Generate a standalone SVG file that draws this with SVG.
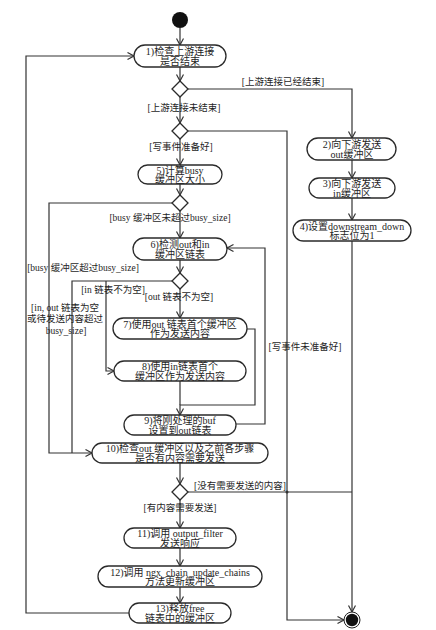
<svg xmlns="http://www.w3.org/2000/svg" width="436" height="630" viewBox="0 0 436 630">
<defs>
<style>
.n{fill:#ffffff;stroke:#2a2a2a;stroke-width:1.3}
.d{fill:#ffffff;stroke:#2a2a2a;stroke-width:1.3}
.c{fill:none;stroke:#333;stroke-width:1.2}
.a{marker-end:url(#arr)}
text{font-family:"Liberation Serif","Noto Sans CJK SC",serif;font-size:10px;fill:#1e1e1e;text-anchor:middle}
.l{font-size:9.5px}
</style>
<marker id="arr" markerUnits="userSpaceOnUse" markerWidth="9" markerHeight="9" refX="7" refY="4" orient="auto">
<path d="M0.5,0.5 L7,4 L0.5,7.5" fill="none" stroke="#333" stroke-width="1.2"/>
</marker>
</defs>
<rect width="436" height="630" fill="#fff"/>

<g id="connectors">
<path class="c a" d="M180,28 V45"/>
<path class="c a" d="M180,67 V81"/>
<path class="c a" d="M188,89 H352 V138"/>
<path class="c a" d="M180,97 V123"/>
<path class="c a" d="M188,131 H287 V620 H344"/>
<path class="c a" d="M180,139 V165"/>
<path class="c a" d="M180,184 V195"/>
<path class="c a" d="M172,203 H49 V453 H92"/>
<path class="c a" d="M180,211 V238"/>
<path class="c a" d="M180,260 V273"/>
<path class="c" d="M172,281 H72 V453"/>
<path class="c a" d="M106,281 V371 H114"/>
<path class="c a" d="M180,289 V318"/>
<path class="c a" d="M247,329 H255 V405 H180 V415"/>
<path class="c" d="M180,381 V405"/>
<path class="c a" d="M236,424 H265 V248 H227"/>
<path class="c a" d="M180,463 V484"/>
<path class="c" d="M188,492 H352"/>
<circle cx="287" cy="492" r="1.5" fill="#333"/>
<path class="c a" d="M352,160 V178"/>
<path class="c a" d="M352,198 V220"/>
<path class="c a" d="M352,241 V612"/>
<path class="c a" d="M180,500 V528"/>
<path class="c a" d="M180,548 V566"/>
<path class="c a" d="M180,587 V603"/>
<path class="c a" d="M129,613 H26 V56 H134"/>
</g>

<g id="start"><circle cx="180" cy="20" r="8" fill="#111"/></g>
<g id="end"><circle cx="352" cy="620" r="8" fill="#fff" stroke="#222" stroke-width="1"/><circle cx="352" cy="620" r="6.2" fill="#111"/></g>

<g id="d1"><path class="d" fill="#fff" d="M180,81 L188,89 L180,97 L172,89 Z"/></g>
<g id="d2"><path class="d" fill="#fff" d="M180,123 L188,131 L180,139 L172,131 Z"/></g>
<g id="d3"><path class="d" fill="#fff" d="M180,195 L188,203 L180,211 L172,203 Z"/></g>
<g id="d4"><path class="d" fill="#fff" d="M180,273 L188,281 L180,289 L172,281 Z"/></g>
<g id="d5"><path class="d" fill="#fff" d="M180,484 L188,492 L180,500 L172,492 Z"/></g>

<g id="n1"><rect class="n" fill="#fff" x="134" y="45" width="92" height="22" rx="11"/><text x="180" y="55">1)检查上游连接</text><text x="180" y="64.5">是否结束</text></g>
<g id="n2"><rect class="n" fill="#fff" x="307" y="138" width="89" height="22" rx="11"/><text x="352" y="148">2)向下游发送</text><text x="352" y="157.5">out缓冲区</text></g>
<g id="n3"><rect class="n" fill="#fff" x="309" y="178" width="86" height="20" rx="10"/><text x="352" y="187">3)向下游发送</text><text x="352" y="196.5">in缓冲区</text></g>
<g id="n4"><rect class="n" fill="#fff" x="293" y="220" width="118" height="21" rx="10.5"/><text x="352" y="229.5">4)设置downstream_down</text><text x="352" y="239">标志位为1</text></g>
<g id="n5"><rect class="n" fill="#fff" x="138" y="165" width="84" height="19" rx="9.5"/><text x="180" y="173.5">5)计算busy</text><text x="180" y="183">缓冲区大小</text></g>
<g id="n6"><rect class="n" fill="#fff" x="133" y="238" width="94" height="22" rx="11"/><text x="180" y="248">6)检测out和in</text><text x="180" y="257.5">缓冲区链表</text></g>
<g id="n7"><rect class="n" fill="#fff" x="113" y="318" width="134" height="21" rx="10.5"/><text x="180" y="327.5">7)使用out 链表首个缓冲区</text><text x="180" y="337">作为发送内容</text></g>
<g id="n8"><rect class="n" fill="#fff" x="114" y="361" width="132" height="20" rx="10"/><text x="180" y="370">8)使用in链表首个</text><text x="180" y="379.5">缓冲区作为发送内容</text></g>
<g id="n9"><rect class="n" fill="#fff" x="124" y="415" width="112" height="20" rx="10"/><text x="180" y="424">9)将刚处理的buf</text><text x="180" y="433.5">设置到out链表</text></g>
<g id="n10"><rect class="n" fill="#fff" x="92" y="443" width="176" height="20" rx="10"/><text x="180" y="452">10)检查out 缓冲区以及之前各步骤</text><text x="180" y="461.5">是否有内容需要发送</text></g>
<g id="n11"><rect class="n" fill="#fff" x="124" y="528" width="112" height="20" rx="10"/><text x="180" y="537">11)调用 output_filter</text><text x="180" y="546.5">发送响应</text></g>
<g id="n12"><rect class="n" fill="#fff" x="98" y="566" width="164" height="21" rx="10.5"/><text x="180" y="575.5">12)调用 ngx_chain_update_chains</text><text x="180" y="585">方法更新缓冲区</text></g>
<g id="n13"><rect class="n" fill="#fff" x="129" y="603" width="102" height="20" rx="10"/><text x="180" y="612">13)释放free</text><text x="180" y="621.5">链表中的缓冲区</text></g>

<g id="labels">
<text class="l" x="283" y="84.5">[上游连接已经结束]</text>
<text class="l" x="184" y="110.5">[上游连接未结束]</text>
<text class="l" x="181" y="149.5">[写事件准备好]</text>
<text class="l" x="170" y="220.5">[busy 缓冲区未超过busy_size]</text>
<text class="l" x="83" y="270.5">[busy 缓冲区超过busy_size]</text>
<text class="l" x="113" y="292.5">[in 链表不为空]</text>
<text class="l" x="179" y="300">[out 链表不为空]</text>
<text class="l" x="65" y="310.5">[in, out 链表为空</text>
<text class="l" x="65" y="322">或待发送内容超过</text>
<text class="l" x="66" y="333.5">busy_size]</text>
<text class="l" x="305" y="349.5">[写事件未准备好]</text>
<text class="l" x="240" y="488.5">[没有需要发送的内容]</text>
<text class="l" x="180" y="510.5">[有内容需要发送]</text>
</g>
</svg>
